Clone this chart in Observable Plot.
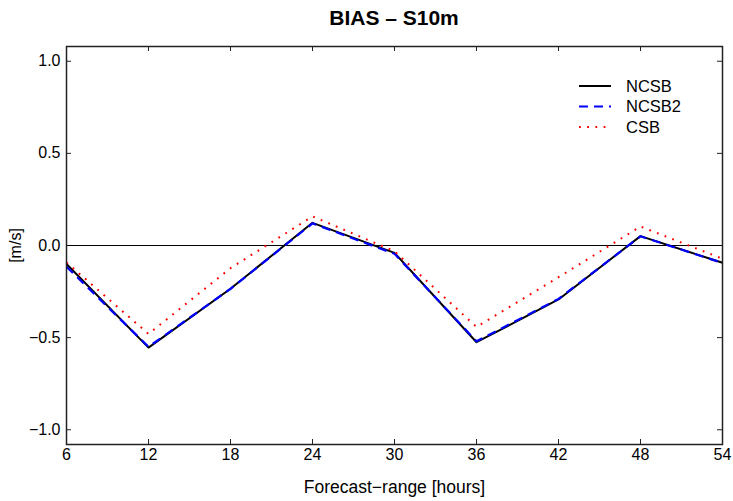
<!DOCTYPE html>
<html>
<head>
<meta charset="utf-8">
<script src="https://cdn.jsdelivr.net/npm/d3@7"></script>
<script src="https://cdn.jsdelivr.net/npm/@observablehq/plot@0.6"></script>
<style>
  body { margin: 0; background: #fff; font-family: "Liberation Sans", Arial, sans-serif; }
  #wrap { position: relative; width: 733px; height: 501px; }
  #title { height: 36px; box-sizing: border-box; padding: 6px 11px 0 66px; text-align: center;
           font: bold 21px/24px "Liberation Sans", Arial, sans-serif; color: #000; }
  #legend { position: absolute; left: 570px; top: 72px; }
</style>
</head>
<body>
<div id="wrap">
  <div id="title">BIAS – S10m</div>
  <div id="chart"></div>
  <svg id="legend" width="140" height="70"></svg>
</div>
<script>
const hours = [6, 12, 18, 24, 30, 36, 42, 48, 54];
const ncsb  = [-0.100, -0.554, -0.235, 0.123, -0.040, -0.525, -0.293, 0.051, -0.094];
const ncsb2 = [-0.115, -0.550, -0.235, 0.120, -0.045, -0.520, -0.290, 0.050, -0.095];
const csb   = [-0.092, -0.480, -0.123, 0.158, -0.031, -0.442, -0.172, 0.103, -0.072];
const seriesNames = ["NCSB", "NCSB2", "CSB"];
const xTicks = [6, 12, 18, 24, 30, 36, 42, 48, 54];
const yTicks = [-1.0, -0.5, 0.0, 0.5, 1.0];

const styles = {
  NCSB:  {stroke: "black", strokeWidth: 2, strokeDasharray: null, strokeLinecap: "butt"},
  NCSB2: {stroke: "#0000ff", strokeWidth: 2.2, strokeDasharray: "9,6", strokeLinecap: "butt"},
  CSB:   {stroke: "#ff0000", strokeWidth: 2, strokeDasharray: "1.8,6.4", strokeLinecap: "butt"}
};
const values = {NCSB: ncsb, NCSB2: ncsb2, CSB: csb};
const table = n => hours.map((h, i) => ({hour: h, value: values[n][i]}));

const W = 733, H = 465, mL = 66, mR = 11, mT = 10, mB = 57;
const fw = W - mL - mR, fh = H - mT - mB;
const tick = 5;
const fmt = d => d3.format(".1f")(d).replace("-", "\u2212");

const chart = Plot.plot({
  width: W, height: H,
  marginLeft: mL, marginRight: mR, marginTop: mT, marginBottom: mB,
  style: {fontFamily: "Liberation Sans, Arial, sans-serif", fontSize: "16px", color: "black", background: "white", overflow: "visible"},
  x: {domain: [6, 54]},
  y: {domain: [-1.08, 1.08]},
  marks: [
    Plot.axisX(xTicks, {tickSize: 0, tickPadding: 4, label: null, fontSize: 16}),
    Plot.axisY(yTicks, {tickSize: 0, tickPadding: 6, label: null, tickFormat: fmt, fontSize: 16}),
    Plot.tickX(xTicks, {x: d => d, insetTop: fh - tick, stroke: "#222", strokeWidth: 1}),
    Plot.tickX(xTicks, {x: d => d, insetBottom: fh - tick, stroke: "#222", strokeWidth: 1}),
    Plot.tickY(yTicks, {y: d => d, insetRight: fw - tick, stroke: "#222", strokeWidth: 1}),
    Plot.tickY(yTicks, {y: d => d, insetLeft: fw - tick, stroke: "#222", strokeWidth: 1}),
    Plot.ruleY([0], {stroke: "black", strokeWidth: 1}),
    ...seriesNames.map(n => Plot.line(table(n), {x: "hour", y: "value", ...styles[n]})),
    Plot.frame({stroke: "#222", strokeWidth: 1.5}),
    Plot.text(["[m/s]"], {frameAnchor: "left", textAnchor: "middle", dx: -51, rotate: -90, fontSize: 16}),
    Plot.text(["Forecast\u2212range [hours]"], {frameAnchor: "bottom", dy: 48, fontSize: 17.5})
  ]
});
document.getElementById("chart").appendChild(chart);

// legend
const leg = d3.select("#legend");
seriesNames.forEach((n, i) => {
  const y = 14 + i * 20.5;
  const s = styles[n];
  leg.append("line").attr("x1", 9).attr("x2", 41).attr("y1", y).attr("y2", y)
    .attr("stroke", s.stroke).attr("stroke-width", s.strokeWidth)
    .attr("stroke-dasharray", s.strokeDasharray);
  leg.append("text").attr("x", 56).attr("y", y).attr("dy", "0.35em")
    .attr("font-family", "Liberation Sans, Arial, sans-serif").attr("font-size", 16.5)
    .text(n);
});
</script>
</body>
</html>
